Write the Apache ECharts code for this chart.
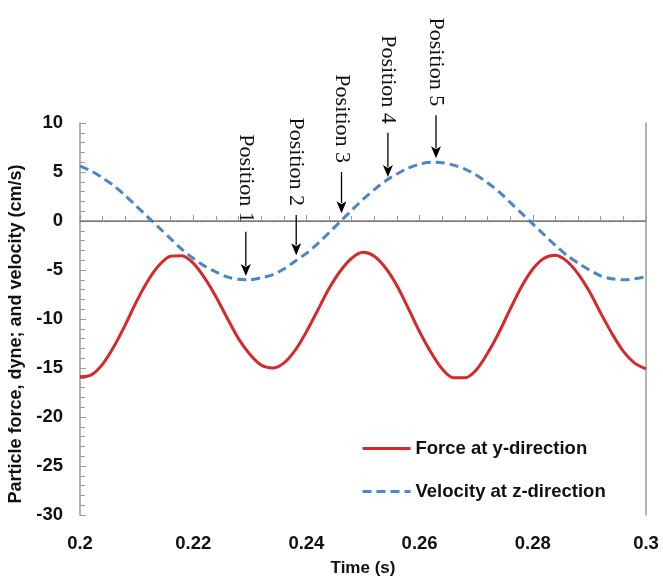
<!DOCTYPE html>
<html>
<head>
<meta charset="utf-8">
<script src="https://cdn.jsdelivr.net/npm/echarts@6/dist/echarts.min.js"></script>
<style>
  html, body { margin: 0; padding: 0; background: #fff; }
  #chart { width: 663px; height: 578px; }
</style>
</head>
<body>
<div id="chart"></div>
<script>
// time samples (s)
const times = [
  0.200, 0.202, 0.204, 0.206, 0.208, 0.210, 0.212, 0.214, 0.216, 0.218,
  0.220, 0.222, 0.224, 0.226, 0.228, 0.230, 0.232, 0.234, 0.236, 0.238,
  0.240, 0.242, 0.244, 0.246, 0.248, 0.250, 0.252, 0.254, 0.256, 0.258,
  0.260, 0.262, 0.264, 0.266, 0.268, 0.270, 0.272, 0.274, 0.276, 0.278,
  0.280, 0.282, 0.284, 0.286, 0.288, 0.290, 0.292, 0.294, 0.296, 0.298,
  0.300
]
// force at y-direction (dyne)
const force = [
  -15.9, -15.7, -14.6, -12.8, -10.6, -8.2, -6.1, -4.5, -3.6, -3.55,
  -4.3, -5.8, -7.7, -9.9, -12.0, -13.6, -14.7, -15.0, -14.5, -13.2,
  -11.3, -9.1, -6.9, -5.1, -3.8, -3.2, -3.6, -4.8, -6.6, -8.9,
  -11.3, -13.4, -15.1, -16.0, -16.0, -15.2, -13.5, -11.4, -9.0, -6.7,
  -4.9, -3.8, -3.5, -4.1, -5.4, -7.2, -9.4, -11.5, -13.3, -14.5,
  -15.1
]
// velocity at z-direction (cm/s)
const velocity = [
  5.6, 5.1, 4.4, 3.6, 2.6, 1.5, 0.4, -0.7, -1.8, -2.9,
  -3.8, -4.6, -5.2, -5.7, -5.95, -6.0, -5.8, -5.5, -4.9, -4.1,
  -3.3, -2.3, -1.2, -0.05, 1.1, 2.2, 3.2, 4.1, 4.8, 5.4,
  5.8, 6.0, 5.95, 5.7, 5.3, 4.7, 3.9, 3.0, 1.9, 0.8,
  -0.3, -1.4, -2.5, -3.5, -4.3, -5.0, -5.6, -5.9, -6.0, -5.9,
  -5.7
]
// "Position n" arrows: time, arrow tip value, arrow tail value
const posLabels = ['Position 1', 'Position 2', 'Position 3', 'Position 4', 'Position 5']
const posTimes = [0.2293, 0.2382, 0.2462, 0.2544, 0.2629]
const posTips = [-5.6, -3.5, 0.8, 4.5, 6.4]
const posTails = [-1.1, 0.6, 5.0, 9.0, 10.8]

const xTicks = [0.2, 0.22, 0.24, 0.26, 0.28, 0.3]

const chart = echarts.init(document.getElementById('chart'))

const sans = '"Liberation Sans", Arial, sans-serif'
const axisGrey = '#9a9a9a'

const option = {
  animation: false,
  textStyle: { fontFamily: sans },
  grid: {
    left: 80,
    right: 17,
    top: 123,
    bottom: 63,
    containLabel: false,
    outerBoundsMode: 'none'
  },
  legend: {
    data: ['Force at y-direction', 'Velocity at z-direction'],
    orient: 'vertical',
    left: 356,
    top: 434,
    itemWidth: 48,
    itemHeight: 14,
    itemGap: 24,
    itemStyle: { opacity: 0 },
    lineStyle: { width: 3 },
    textStyle: { fontSize: 18.5, fontWeight: 'bold', color: '#111', fontFamily: sans }
  },
  xAxis: [
    {
      type: 'value',
      min: xTicks[0],
      max: xTicks[xTicks.length - 1],
      interval: 0.02,
      name: 'Time (s)',
      nameLocation: 'middle',
      nameGap: 45,
      nameTextStyle: { fontSize: 17, fontWeight: 'bold', color: '#111' },
      axisLine: { lineStyle: { color: axisGrey, width: 1.5 } },
      axisTick: { inside: true, length: 6, lineStyle: { color: axisGrey } },
      minorTick: { show: true, splitNumber: 5, length: 5, lineStyle: { color: axisGrey } },
      splitLine: { show: false },
      axisLabel: {
        margin: 19,
        fontSize: 18.5,
        fontWeight: 'bold',
        color: '#111',
        formatter: v => String(+v.toFixed(2))
      }
    },
    {
      type: 'value',
      position: 'top',
      min: xTicks[0],
      max: xTicks[xTicks.length - 1],
      axisLine: { show: true, lineStyle: { color: axisGrey, width: 1.5 } },
      axisTick: { show: false },
      axisLabel: { show: false },
      splitLine: { show: false }
    }
  ],
  yAxis: [
    {
      type: 'value',
      min: -30,
      max: 10,
      interval: 5,
      name: 'Particle force, dyne; and velocity (cm/s)',
      nameLocation: 'middle',
      nameGap: 52,
      nameTextStyle: { fontSize: 18, fontWeight: 'bold', color: '#111', padding: [0, 30, 0, 0] },
      axisLine: { show: true, lineStyle: { color: axisGrey, width: 1.5 } },
      axisTick: { inside: true, length: 6, lineStyle: { color: axisGrey } },
      minorTick: { show: true, splitNumber: 5, length: 5, lineStyle: { color: axisGrey } },
      splitLine: { show: false },
      axisLabel: { margin: 17, fontSize: 18.5, fontWeight: 'bold', color: '#111' }
    },
    {
      type: 'value',
      position: 'right',
      min: -30,
      max: 10,
      axisLine: { show: true, lineStyle: { color: axisGrey, width: 1.5 } },
      axisTick: { show: false },
      axisLabel: { show: false },
      splitLine: { show: false }
    }
  ],
  series: [
    {
      name: 'Force at y-direction',
      type: 'line',
      data: times.map((t, i) => [t, force[i]]),
      smooth: 0.3,
      showSymbol: false,
      symbol: 'none',
      color: '#d42a2a',
      lineStyle: { width: 3, color: '#d42a2a' },
      z: 3
    },
    {
      name: 'Velocity at z-direction',
      type: 'line',
      data: times.map((t, i) => [t, velocity[i]]),
      smooth: 0.3,
      showSymbol: false,
      symbol: 'none',
      color: '#4a86c8',
      lineStyle: { width: 3, color: '#4a86c8', type: [9, 5] },
      z: 4,
      markLine: {
        silent: true,
        symbol: 'none',
        label: { show: false },
        lineStyle: { type: 'dotted', color: '#555', width: 1.2 },
        data: [{ yAxis: 0 }]
      }
    },
    {
      name: 'positions',
      type: 'custom',
      clip: false,
      z: 5,
      data: posTimes.map((t, i) => [t, posTips[i], posTails[i]]),
      renderItem: (params, api) => {
        const i = params.dataIndex
        const tip = api.coord([api.value(0), api.value(1)])
        const tail = api.coord([api.value(0), api.value(2)])
        const head = 12
        const half = 5
        return {
          type: 'group',
          children: [
            {
              type: 'line',
              shape: { x1: tail[0], y1: tail[1], x2: tip[0], y2: tip[1] - head + 2 },
              style: { stroke: '#000', lineWidth: 1.3 }
            },
            {
              type: 'polygon',
              shape: { points: [[tip[0], tip[1]], [tip[0] - half, tip[1] - head], [tip[0], tip[1] - head + 3], [tip[0] + half, tip[1] - head]] },
              style: { fill: '#000' }
            },
            {
              type: 'text',
              x: tail[0],
              y: tail[1] - 9,
              rotation: -Math.PI / 2,
              style: {
                text: posLabels[i],
                fontFamily: '"Liberation Serif", "Times New Roman", serif',
                fontSize: 22,
                fill: '#111',
                align: 'right',
                verticalAlign: 'middle'
              }
            }
          ]
        }
      }
    }
  ]
}

chart.setOption(option)
</script>
</body>
</html>
